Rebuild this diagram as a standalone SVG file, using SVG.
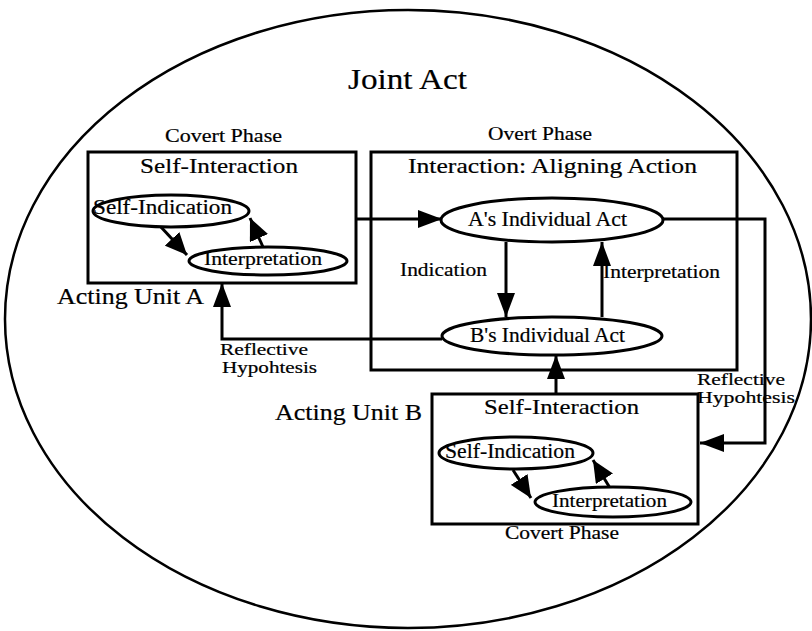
<svg xmlns="http://www.w3.org/2000/svg" width="812" height="631" viewBox="0 0 812 631">
<defs>
<marker id="ah" markerUnits="userSpaceOnUse" markerWidth="26" markerHeight="18" refX="24" refY="9" orient="auto">
<path d="M0,0 L24,9 L0,18 z" fill="#000"/>
</marker>
<marker id="ahs" markerUnits="userSpaceOnUse" markerWidth="24" markerHeight="20" refX="22" refY="10" orient="auto">
<path d="M0,0 L22,10 L0,20 z" fill="#000"/>
</marker>
</defs>
<style>
text{font-family:"Liberation Serif","Times New Roman",serif;fill:#000;stroke:#000;stroke-width:0.2}
.box{fill:none;stroke:#000;stroke-width:3}
.ell{fill:#fff;stroke:#000;stroke-width:3}
.con{fill:none;stroke:#000;stroke-width:3;marker-end:url(#ah)}
.cons{fill:none;stroke:#000;stroke-width:3;marker-end:url(#ahs)}
</style>
<rect width="812" height="631" fill="#fff"/>
<g id="joint-act">
<ellipse cx="408" cy="319" rx="403" ry="309" fill="none" stroke="#000" stroke-width="2.5"/>
<text x="348" y="89" font-size="30" textLength="119" lengthAdjust="spacingAndGlyphs">Joint Act</text>
</g>
<g id="connectors">
<line class="con" x1="357" y1="219" x2="442" y2="219"/>
<line class="con" x1="506" y1="242" x2="506" y2="317"/>
<line class="con" x1="602" y1="317" x2="602" y2="242"/>
<polyline class="con" points="442,339 222,339 222,283"/>
<polyline class="con" points="663,219 765,219 765,443 700,443"/>
<line class="con" x1="556" y1="394" x2="556" y2="355"/>
<line class="cons" x1="160" y1="226" x2="187" y2="255"/>
<line class="cons" x1="263" y1="247" x2="250" y2="218"/>
<line class="cons" x1="513" y1="470" x2="531" y2="498"/>
<line class="cons" x1="610" y1="488" x2="593" y2="460"/>
</g>
<g id="unit-a">
<text x="165" y="142" font-size="18" textLength="117" lengthAdjust="spacingAndGlyphs">Covert Phase</text>
<rect class="box" x="88" y="152" width="268" height="131"/>
<text x="140" y="173" font-size="22" textLength="158" lengthAdjust="spacingAndGlyphs">Self-Interaction</text>
<text x="57" y="304" font-size="23" textLength="147" lengthAdjust="spacingAndGlyphs">Acting Unit A</text>
</g>
<g id="a-self-indication">
<ellipse class="ell" cx="171" cy="211" rx="78" ry="16"/>
<text x="93" y="214" font-size="20" textLength="139" lengthAdjust="spacingAndGlyphs">Self-Indication</text>
</g>
<g id="a-interpretation">
<ellipse class="ell" cx="268" cy="261" rx="79" ry="14"/>
<text x="204" y="265" font-size="19" textLength="118" lengthAdjust="spacingAndGlyphs">Interpretation</text>
</g>
<g id="interaction">
<text x="488" y="140" font-size="18" textLength="104" lengthAdjust="spacingAndGlyphs">Overt Phase</text>
<rect class="box" x="371" y="152" width="366" height="218"/>
<text x="408" y="173" font-size="22" textLength="289" lengthAdjust="spacingAndGlyphs">Interaction: Aligning Action</text>
<text x="400" y="276" font-size="18" textLength="87" lengthAdjust="spacingAndGlyphs">Indication</text>
<text x="603" y="278" font-size="18" textLength="117" lengthAdjust="spacingAndGlyphs">Interpretation</text>
</g>
<g id="a-individual-act">
<ellipse class="ell" cx="552" cy="220" rx="111" ry="22"/>
<text x="468" y="226" font-size="20" textLength="159" lengthAdjust="spacingAndGlyphs">A's Individual Act</text>
</g>
<g id="b-individual-act">
<ellipse class="ell" cx="552" cy="336" rx="110" ry="19"/>
<text x="470" y="342" font-size="20" textLength="155" lengthAdjust="spacingAndGlyphs">B's Individual Act</text>
</g>
<g id="labels">
<text x="220" y="355" font-size="16" textLength="88" lengthAdjust="spacingAndGlyphs">Reflective</text>
<text x="222" y="373" font-size="16" textLength="95" lengthAdjust="spacingAndGlyphs">Hypohtesis</text>
<text x="697" y="385" font-size="16" textLength="88" lengthAdjust="spacingAndGlyphs">Reflective</text>
<text x="697" y="403" font-size="16" textLength="98" lengthAdjust="spacingAndGlyphs">Hypohtesis</text>
</g>
<g id="unit-b">
<rect class="box" x="432" y="394" width="266" height="130"/>
<text x="484" y="414" font-size="22" textLength="155" lengthAdjust="spacingAndGlyphs">Self-Interaction</text>
<text x="275" y="420" font-size="23" textLength="147" lengthAdjust="spacingAndGlyphs">Acting Unit B</text>
<text x="505" y="539" font-size="18" textLength="114" lengthAdjust="spacingAndGlyphs">Covert Phase</text>
</g>
<g id="b-self-indication">
<ellipse class="ell" cx="516" cy="453" rx="77" ry="16"/>
<text x="445" y="458" font-size="20" textLength="130" lengthAdjust="spacingAndGlyphs">Self-Indication</text>
</g>
<g id="b-interpretation">
<ellipse class="ell" cx="613" cy="502" rx="78" ry="15"/>
<text x="552" y="507" font-size="19" textLength="115" lengthAdjust="spacingAndGlyphs">Interpretation</text>
</g>
</svg>
